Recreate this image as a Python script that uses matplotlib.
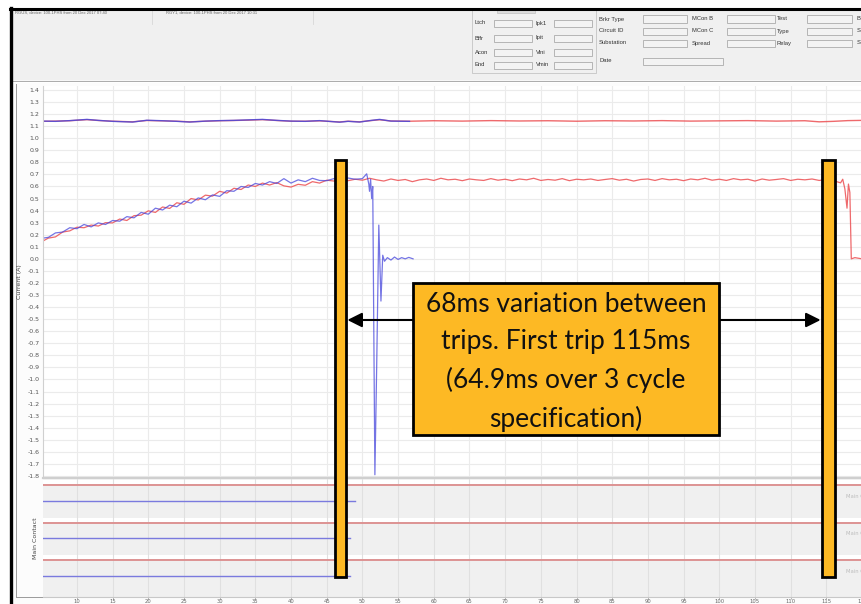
import numpy as np
import matplotlib
matplotlib.use("Agg")
import matplotlib.pyplot as plt
from matplotlib.patches import Rectangle
from matplotlib.lines import Line2D

plt.rcParams['axes.unicode_minus'] = False

# ---------------- data (time in ms, current in A) ----------------
t_top_blue = [5.2, 7, 9, 11.4, 13, 15, 17.8, 19.8, 22, 24, 25.8, 28, 30, 32, 34, 36,
              38, 40, 42, 44, 46.8, 48, 49.6, 51, 52.4, 54, 56.6]
top_blue = [1.142, 1.140, 1.146, 1.156, 1.148, 1.140, 1.134, 1.149, 1.145, 1.140, 1.134,
            1.142, 1.146, 1.148, 1.152, 1.156, 1.148, 1.142, 1.140, 1.146, 1.133, 1.140,
            1.134, 1.146, 1.156, 1.142, 1.140]

t_top_red = [5.2, 7, 9, 11.4, 13, 15, 17.8, 19.8, 22, 24, 25.8, 28, 30, 32, 34, 36,
             38, 40, 42, 44, 46.8, 48, 49.6, 51, 52.4, 54, 56.6, 60, 64, 68, 72, 76, 80,
             84, 88, 92, 96, 100, 104, 108, 112, 114, 116, 118, 120]
top_red = [1.140, 1.142, 1.145, 1.154, 1.147, 1.141, 1.136, 1.147, 1.144, 1.141, 1.136,
           1.141, 1.145, 1.147, 1.150, 1.154, 1.147, 1.141, 1.141, 1.144, 1.135, 1.141,
           1.136, 1.145, 1.153, 1.143, 1.141, 1.145, 1.142, 1.146, 1.143, 1.145, 1.141,
           1.145, 1.143, 1.146, 1.142, 1.144, 1.146, 1.142, 1.145, 1.136, 1.140, 1.146, 1.148]

t_red = list(range(5, 118)) + [117.3, 117.6, 117.9, 118.1, 118.3, 118.5, 119, 120]
red_current = [
    0.140, 0.172, 0.182, 0.222, 0.232, 0.262, 0.258, 0.280, 0.272, 0.300,   # 5-14
    0.298, 0.330, 0.318, 0.358, 0.362, 0.398, 0.385, 0.430, 0.418, 0.465,   # 15-24
    0.452, 0.500, 0.488, 0.528, 0.520, 0.560, 0.545, 0.585, 0.575, 0.612,   # 25-34
    0.600, 0.628, 0.612, 0.632, 0.605, 0.595, 0.618, 0.610, 0.640, 0.628,   # 35-44
    0.652, 0.645, 0.658, 0.648, 0.660, 0.652, 0.668, 0.655, 0.645, 0.662,   # 45-54
    0.650, 0.658, 0.640, 0.655, 0.662, 0.650, 0.668, 0.655, 0.660, 0.648,   # 55-64
    0.662, 0.655, 0.650, 0.665, 0.652, 0.660, 0.648, 0.662, 0.655, 0.668,   # 65-74
    0.650, 0.658, 0.652, 0.665, 0.648, 0.660, 0.655, 0.662, 0.650, 0.658,   # 75-84
    0.665, 0.652, 0.660, 0.645, 0.658, 0.662, 0.650, 0.665, 0.655, 0.660,   # 85-94
    0.648, 0.662, 0.655, 0.668, 0.652, 0.660, 0.650, 0.665, 0.655, 0.660,   # 95-104
    0.645, 0.662, 0.652, 0.658, 0.665, 0.650, 0.660, 0.655, 0.662, 0.650,   # 105-114
    0.658, 0.648, 0.630,                                                    # 115-117
    0.660, 0.580, 0.420, 0.620, 0.550, 0.000, 0.010, 0.000]

t_blue = list(range(5, 51)) + [50.6, 50.9, 51.0, 51.15, 51.3, 51.45, 51.6, 51.75, 52.0,
                               52.3, 52.6, 52.85, 53.1, 53.5, 54, 54.5, 55, 55.5, 56,
                               56.5, 57.1]
blue_current = [
    0.170, 0.178, 0.215, 0.222, 0.258, 0.250, 0.285, 0.265, 0.298, 0.285,   # 5-14
    0.318, 0.312, 0.350, 0.340, 0.385, 0.370, 0.420, 0.405, 0.445, 0.432,   # 15-24
    0.478, 0.462, 0.505, 0.490, 0.530, 0.518, 0.565, 0.560, 0.600, 0.592,   # 25-34
    0.625, 0.612, 0.640, 0.625, 0.665, 0.628, 0.655, 0.640, 0.668, 0.650,   # 35-44
    0.648, 0.665, 0.655, 0.670, 0.660, 0.665,                               # 45-50
    0.705, 0.620, 0.560, 0.660, 0.500, 0.600, -0.600, -1.790, -0.900,
    0.280, -0.350, 0.030, -0.020, 0.010, -0.010, 0.015, -0.005, 0.010, 0.000,
    0.012, 0.000]

contact_names = ["Main Contact A", "Main Contact B", "Main Contact C"]
contact_red_level = [2.98, 1.98, 0.98]
contact_blue_level = [2.57, 1.57, 0.57]
contact_blue_end = [48.9, 48.2, 48.2]

y_ticks = [v / 10 for v in range(-18, 15)]
x_ticks = list(range(10, 121, 5))

annotation_text = ("68ms variation between\ntrips. First trip 115ms\n"
                   "(64.9ms over 3 cycle\nspecification)")

# ---------------- layout / style ----------------
W, H = 862, 604
XLIM = (5.25, 119.8)
YLIM = (-1.817, 1.433)
ORANGE = '#FDB924'
RED = '#ec4f52'
BLUE = '#4646dc'

fig = plt.figure(figsize=(W / 100, H / 100), dpi=100)
fig.patch.set_facecolor('white')


def fx(px):
    return px / W


def fy(py):
    return 1 - py / H


def frect(x0, y0, x1, y1, **kw):
    r = Rectangle((fx(x0), fy(y1)), (x1 - x0) / W, (y1 - y0) / H,
                  transform=fig.transFigure, **kw)
    fig.add_artist(r)
    return r


def fline(x0, y0, x1, y1, **kw):
    fig.add_artist(Line2D([fx(x0), fx(x1)], [fy(y0), fy(y1)],
                          transform=fig.transFigure, **kw))


# window backgrounds
frect(13, 80, 862, 604, facecolor='#fcfcfc', edgecolor='none', zorder=-6)
frect(13, 9, 862, 80, facecolor='#f0f0f0', edgecolor='none', zorder=-5)
fline(13, 80.5, 862, 80.5, color='#a9a9a9', lw=0.8, zorder=-4)
fline(13, 82, 862, 82, color='#ffffff', lw=0.8, zorder=-4)
fline(16.5, 84, 16.5, 597, color='#9a9a9a', lw=0.7, zorder=-4)
fline(16.5, 597, 43, 597, color='#9a9a9a', lw=0.7, zorder=-4)
# black frame of the screenshot
fline(10, 8.5, 862, 8.5, color='black', lw=2.2, zorder=20)
fline(11.5, 8, 11.5, 604, color='black', lw=2.4, zorder=20)

# header texts (tiny)
fig.text(fx(15), fy(12.5), "RGUS, device: 100-1PHS from 20 Dec 2017 07:40",
         fontsize=3.0, color='#666', va='center', family='Liberation Sans')
fig.text(fx(166), fy(12.5), "RGY1, device: 100-1PHS from 20 Dec 2017 10:31",
         fontsize=3.0, color='#666', va='center', family='Liberation Sans')
fline(152, 10, 152, 24, color='#d8d8d8', lw=0.6)
fline(313, 10, 313, 24, color='#d8d8d8', lw=0.6)

# form group box
frect(472, 10, 596, 73, facecolor='none', edgecolor='#c4c4c4', lw=0.6)
frect(497, 8, 535, 13, facecolor='#dcdcdc', edgecolor='#c0c0c0', lw=0.5)


def flabel(px, py, s):
    fig.text(fx(px), fy(py), s, fontsize=4.2, color='#333', va='center', ha='left',
             family='Liberation Sans')


def fbox(x0, x1, py, h=7):
    frect(x0, py - h / 2, x1, py + h / 2, facecolor='#f3f3f3', edgecolor='#ababab', lw=0.6)


for lab, py in zip(["Ltch", "Bffr", "Acon", "End"], [23, 38, 52, 65]):
    flabel(475, py, lab)
    fbox(494, 532, py)
for lab, py in zip(["Ipk1", "Ipit", "Vini", "Vmin"], [23, 38, 52, 65]):
    flabel(536, py, lab)
    fbox(554, 592, py)
for lab, py in zip(["Brkr Type", "Circuit ID", "Substation"], [19, 31, 43]):
    flabel(599, py, lab)
    fbox(643, 687, py)
flabel(599, 61, "Date")
fbox(643, 723, 61)
for lab, py in zip(["MCon B", "MCon C", "Spread"], [19, 31, 43]):
    flabel(692, py, lab)
    fbox(727, 775, py)
for lab, py in zip(["Test", "Type", "Relay"], [19, 31, 43]):
    flabel(777, py, lab)
    fbox(807, 852, py)
for lab, py in zip(["B", "S", "S"], [19, 31, 43]):
    flabel(857, py, lab)

# ---------------- main current axes ----------------
ax = fig.add_axes([fx(43), fy(478), (862 - 43) / W, (478 - 86) / H])
ax.set_facecolor('white')
ax.set_xlim(*XLIM)
ax.set_ylim(*YLIM)
ax.set_yticks(y_ticks)
ax.set_yticklabels([f"{v:.1f}" for v in y_ticks])
ax.set_xticks(x_ticks)
ax.tick_params(axis='x', length=0, labelbottom=False)
ax.tick_params(axis='y', length=0, labelsize=4.5, labelcolor='#555', pad=2.5)
ax.grid(True, color='#ebebeb', lw=0.8)
ax.set_axisbelow(True)
for side in ['top', 'right']:
    ax.spines[side].set_visible(False)
ax.spines['left'].set_color('#d0d0d0')
ax.spines['bottom'].set_color('#cfcfcf')
ax.spines['bottom'].set_linewidth(1.6)
ax.set_ylabel("Current (A)", fontsize=4.5, color='#444')
ax.yaxis.set_label_coords((22 - 43) / 819, 0.5)

ax.plot(t_top_red, top_red, color=RED, lw=1.0, alpha=0.85)
ax.plot(t_top_blue, top_blue, color=BLUE, lw=1.0, alpha=0.85)
ax.plot(t_red, red_current, color=RED, lw=0.9, alpha=0.85)
ax.plot(t_blue, blue_current, color=BLUE, lw=0.9, alpha=0.75)

# ---------------- main contact axes ----------------
cax = fig.add_axes([fx(43), fy(597), (862 - 43) / W, (597 - 479) / H])
cax.set_facecolor('#f0f0f0')
cax.set_xlim(*XLIM)
cax.set_ylim(0, 3.15)
for lvl in contact_red_level:
    cax.axhspan(lvl + 0.03, lvl + 0.14, color='white', lw=0, zorder=0.5)
cax.set_xticks(x_ticks)
cax.set_xticklabels([str(v) for v in x_ticks])
cax.set_yticks([])
cax.tick_params(axis='x', length=1.2, width=0.5, color='#999', labelsize=3.8,
                labelcolor='#666', pad=0.3)
cax.grid(True, axis='x', color='#e0e0e0', lw=0.8)
cax.set_axisbelow(True)
for side in ['top', 'right', 'left']:
    cax.spines[side].set_visible(False)
cax.spines['bottom'].set_color('#c8c8c8')
cax.set_ylabel("Main Contact", fontsize=4.5, color='#444')
cax.yaxis.set_label_coords((38 - 43) / 819, 0.5)

for name, rl, bl, be in zip(contact_names, contact_red_level, contact_blue_level,
                            contact_blue_end):
    cax.plot([XLIM[0], XLIM[1]], [rl, rl], color='#dc8c8c', lw=1.3, zorder=2)
    cax.plot([XLIM[0], be], [bl, bl], color='#7a7ade', lw=1.0, zorder=2)
    cax.text(117.8, bl + 0.12, name, fontsize=3.8, color='#bdbdbd', va='center',
             ha='left', clip_on=False)

# ---------------- annotations ----------------
BARS = [(46.1, 47.75), (114.35, 116.15)]
BAR_TOP, BAR_BOTTOM = 0.82, -2.638
for b0, b1 in BARS:
    fig.add_artist(Rectangle((b0, BAR_BOTTOM), b1 - b0, BAR_TOP - BAR_BOTTOM,
                             transform=ax.transData, facecolor=ORANGE,
                             edgecolor='black', lw=2.0, zorder=10, clip_on=False))

ARROW_V = -0.507
ax.annotate('', xy=(BARS[0][1] + 0.15, ARROW_V), xytext=(BARS[1][0] - 0.15, ARROW_V),
            arrowprops=dict(arrowstyle='<|-|>', color='black', lw=1.5,
                            mutation_scale=22, shrinkA=0, shrinkB=0),
            zorder=8, annotation_clip=False)

BOX = (57.13, -1.461, 99.93, -0.200)
ax.add_patch(Rectangle((BOX[0], BOX[1]), BOX[2] - BOX[0], BOX[3] - BOX[1],
                       facecolor=ORANGE, edgecolor='black', lw=2.0, zorder=9,
                       clip_on=False))
ax.text((BOX[0] + BOX[2]) / 2, (BOX[1] + BOX[3]) / 2 - 0.025, annotation_text,
        ha='center', va='center', fontsize=19, family='Lato', color='#111',
        linespacing=1.62, zorder=11)

fig.savefig("out.png", dpi=100, facecolor=fig.get_facecolor())
